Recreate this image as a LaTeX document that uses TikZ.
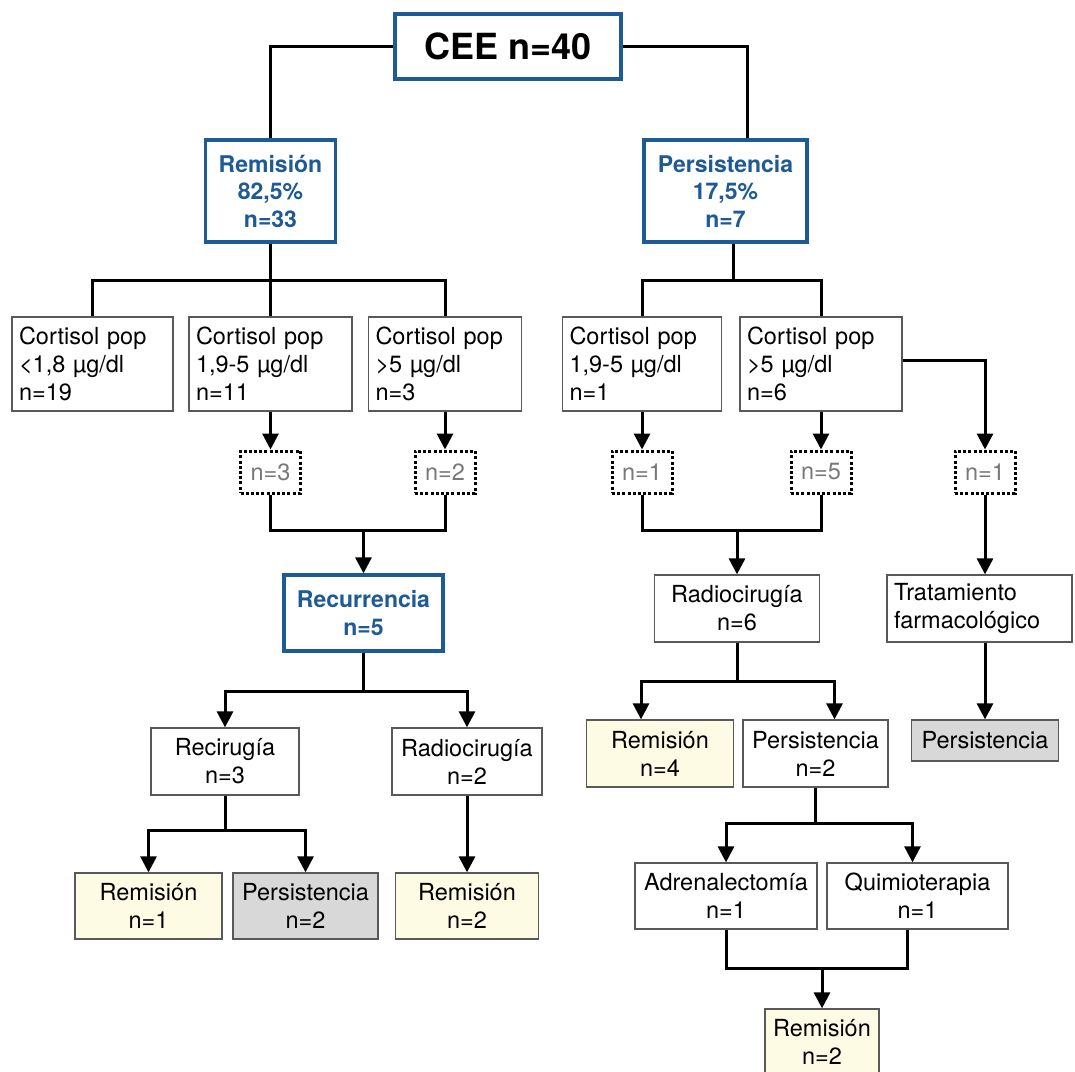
\documentclass[tikz,border=0pt]{standalone}
\usepackage{fontspec}
\setmainfont{TeX Gyre Heros}
\usepackage{tikz}
\usetikzlibrary{arrows.meta}
\definecolor{boxblue}{RGB}{30,90,150}
\definecolor{remfill}{RGB}{253,251,227}
\definecolor{persfill}{RGB}{216,216,216}
\definecolor{countgray}{RGB}{120,120,120}

\begin{document}
\begin{tikzpicture}
  [x=1pt, y=-1pt,
   every node/.style={font=\fontsize{23.5}{28}\selectfont, inner sep=0pt},
   plain box/.style={draw=black!65, line width=1.3pt, fill=white, align=center},
   cortisol box/.style={plain box, align=left, inner xsep=7pt, minimum height=94pt},
   blue box/.style={draw=boxblue, line width=3.3pt, fill=white, text=boxblue, align=center,
     font=\fontsize{23}{27.5}\selectfont\bfseries},
   count box/.style={draw=black, line width=3pt, dash pattern=on 3pt off 2.2pt,
     text=countgray, minimum width=60pt, minimum height=42pt},
   rem box/.style={plain box, fill=remfill},
   pers box/.style={plain box, fill=persfill},
   link/.style={line width=3pt},
   arrow link/.style={link, -{Triangle[width=16pt,length=16pt]}}]
  \fill[white] (0,0) rectangle (1075,1071);
  \useasboundingbox (0,0) rectangle (1075,1071);

  \node[blue box, text=black, font=\fontsize{36}{40}\selectfont\bfseries,
    minimum width=226pt, minimum height=65pt] (cee) at (508,46.5) {CEE n=40};
  \node[blue box, minimum width=130pt, minimum height=102pt] (rem) at (270.5,191) {Remisión\\82,5\%\\n=33};
  \node[blue box, minimum width=163pt, minimum height=102pt] (pers) at (725.5,191) {Persistencia\\17,5\%\\n=7};

  \node[cortisol box, text width=147pt] (crem1) at (92.5,364) {Cortisol pop\\<1,8 µg/dl\\n=19};
  \node[cortisol box, text width=149pt] (crem2) at (270.5,364) {Cortisol pop\\1,9-5 µg/dl\\n=11};
  \node[cortisol box, text width=139pt] (crem3) at (445,364) {Cortisol pop\\>5 µg/dl\\n=3};
  \node[cortisol box, text width=145pt] (cpers1) at (642,364) {Cortisol pop\\1,9-5 µg/dl\\n=1};
  \node[cortisol box, text width=148pt] (cpers2) at (821,364) {Cortisol pop\\>5 µg/dl\\n=6};

  \node[count box] (nrem2) at (270.5,472) {n=3};
  \node[count box] (nrem3) at (445,472) {n=2};
  \node[count box] (npers1) at (642,472) {n=1};
  \node[count box] (npers2) at (821,472) {n=5};
  \node[count box] (nfarm) at (985,472) {n=1};

  \node[blue box, minimum width=159pt, minimum height=76pt] (recur) at (363.5,613) {Recurrencia\\n=5};
  \node[plain box, minimum width=165pt, minimum height=67pt] (radpers) at (737,608.5) {Radiocirugía\\n=6};
  \node[plain box, align=left, text width=171pt, inner xsep=7pt, minimum height=67pt] (farm) at (979.5,608.5) {Tratamiento\\farmacológico};
  \node[pers box, minimum width=147pt, minimum height=41pt] (farmres) at (985,740.5) {Persistencia};

  \node[plain box, minimum width=148pt, minimum height=67pt] (recir) at (225,761.5) {Recirugía\\n=3};
  \node[plain box, minimum width=150pt, minimum height=67pt] (radrec) at (467,761.5) {Radiocirugía\\n=2};
  \node[rem box, minimum width=147pt, minimum height=66pt] (recirrem) at (148.5,906) {Remisión\\n=1};
  \node[pers box, minimum width=145pt, minimum height=66pt] (recirpers) at (305.5,906) {Persistencia\\n=2};
  \node[rem box, minimum width=143pt, minimum height=66pt] (radrecrem) at (467,906) {Remisión\\n=2};

  \node[rem box, minimum width=147pt, minimum height=67pt] (radrem) at (660,753.5) {Remisión\\n=4};
  \node[plain box, minimum width=145pt, minimum height=67pt] (radpersist) at (815.5,753.5) {Persistencia\\n=2};
  \node[plain box, minimum width=182pt, minimum height=66pt] (adren) at (726,896) {Adrenalectomía\\n=1};
  \node[plain box, minimum width=181pt, minimum height=66pt] (quimio) at (917.5,896) {Quimioterapia\\n=1};
  \node[rem box, minimum width=114pt, minimum height=66pt] (final) at (822,1042) {Remisión\\n=2};

  \draw[link] (cee.west) -| (rem.north);
  \draw[link] (cee.east) -| ([xshift=22pt]pers.north);
  \draw[link] (rem.south) -- (crem2.north);
  \draw[link] (crem1.north) |- (crem3.north |- 0,280) -- (crem3.north);
  \draw[link] ([xshift=8pt]pers.south) -- ++(0,38);
  \draw[link] (cpers1.north) |- (cpers2.north |- 0,280) -- (cpers2.north);
  \draw[arrow link] ([yshift=4pt]cpers2.east) -| (nfarm.north);

  \draw[arrow link] (crem2.south) -- (nrem2.north);
  \draw[arrow link] (crem3.south) -- (nrem3.north);
  \draw[arrow link] (cpers1.south) -- (npers1.north);
  \draw[arrow link] (cpers2.south) -- (npers2.north);

  \draw[link] (nrem2.south) |- (nrem3.south |- 0,530) -- (nrem3.south);
  \draw[arrow link] (recur.north |- 0,530) -- (recur.north);
  \draw[link] (npers1.south) |- (npers2.south |- 0,530) -- (npers2.south);
  \draw[arrow link] (radpers.north |- 0,530) -- (radpers.north);
  \draw[arrow link] (nfarm.south) -- (nfarm.south |- farm.north);
  \draw[arrow link] (farmres.north |- farm.south) -- (farmres.north);

  \draw[arrow link] (recur.south) -- ++(0,39) -| (recir.north);
  \draw[arrow link] (recur.south) -- ++(0,39) -| (radrec.north);
  \draw[arrow link] (recir.south) -- ++(0,35) -| (recirrem.north);
  \draw[arrow link] (recir.south) -- ++(0,35) -| (recirpers.north);
  \draw[arrow link] (radrec.south) -- (radrecrem.north);

  \draw[arrow link] (radpers.south) -- ++(0,39) -| ([xshift=-19pt]radrem.north);
  \draw[arrow link] (radpers.south) -- ++(0,39) -| ([xshift=19pt]radpersist.north);
  \draw[arrow link] (radpersist.south) -- ++(0,36) -| (adren.north);
  \draw[arrow link] (radpersist.south) -- ++(0,36) -| ([xshift=-5pt]quimio.north);
  \draw[link] (adren.south) |- ([xshift=-10pt]quimio.south |- 0,968) -- ([xshift=-10pt]quimio.south);
  \draw[arrow link] (final.north |- 0,968) -- (final.north);
\end{tikzpicture}
\end{document}
